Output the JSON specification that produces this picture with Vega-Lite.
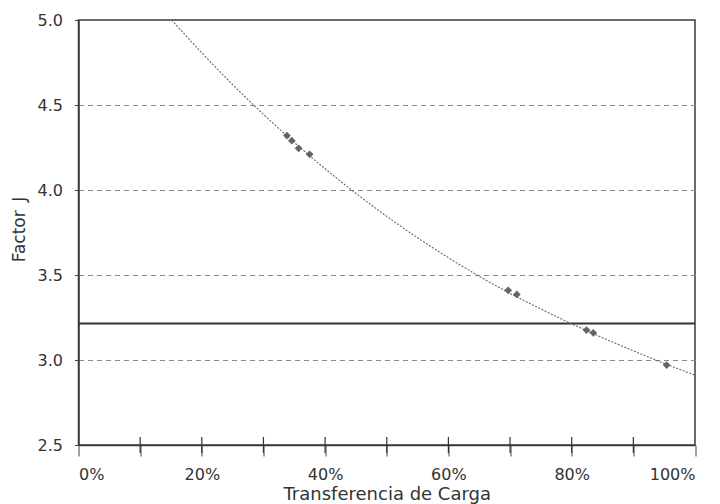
{
  "$schema": "https://vega.github.io/schema/vega-lite/v6.json",
  "width": 616.5,
  "height": 425,
  "autosize": {"type": "none"},
  "padding": {"left": 78.5, "top": 20, "right": 25.5, "bottom": 59},
  "background": "white",
  "config": {
    "font": "DejaVu Sans",
    "view": {"stroke": "#3a3a3a", "strokeWidth": 1.5},
    "axis": {"domainColor": "#3a3a3a", "domainWidth": 1.5, "tickColor": "#444", "labelColor": "#333", "titleColor": "#333", "labelFont": "DejaVu Sans", "titleFont": "DejaVu Sans", "titleFontWeight": "normal"}
  },
  "datasets": {
    "curve": [
      {"x": 0.151, "J": 5.0},
      {"x": 0.2, "J": 4.807},
      {"x": 0.25, "J": 4.62},
      {"x": 0.3, "J": 4.445},
      {"x": 0.35, "J": 4.28},
      {"x": 0.4, "J": 4.125},
      {"x": 0.45, "J": 3.98},
      {"x": 0.5, "J": 3.845},
      {"x": 0.55, "J": 3.719},
      {"x": 0.6, "J": 3.602},
      {"x": 0.65, "J": 3.493},
      {"x": 0.7, "J": 3.392},
      {"x": 0.75, "J": 3.3},
      {"x": 0.8, "J": 3.213},
      {"x": 0.85, "J": 3.131},
      {"x": 0.9, "J": 3.054},
      {"x": 0.95, "J": 2.98},
      {"x": 1.0, "J": 2.911}
    ],
    "points": [
      {"x": 0.338, "J": 4.32},
      {"x": 0.346, "J": 4.29},
      {"x": 0.357, "J": 4.245},
      {"x": 0.375, "J": 4.21},
      {"x": 0.697, "J": 3.41},
      {"x": 0.711, "J": 3.386},
      {"x": 0.824, "J": 3.176},
      {"x": 0.835, "J": 3.16},
      {"x": 0.954, "J": 2.97}
    ],
    "ref": [{"J": 3.215}],
    "xticks": [
      {"t": 0.1}, {"t": 0.2}, {"t": 0.3}, {"t": 0.4}, {"t": 0.5},
      {"t": 0.6}, {"t": 0.7}, {"t": 0.8}, {"t": 0.9}
    ]
  },
  "layer": [
    {
      "data": {"name": "ref"},
      "mark": {"type": "rule", "color": "#333", "strokeWidth": 2},
      "encoding": {
        "y": {"field": "J", "type": "quantitative", "scale": {"domain": [2.5, 5]}}
      }
    },
    {
      "data": {"name": "xticks"},
      "mark": {"type": "tick", "orient": "vertical", "color": "#333", "thickness": 1.2, "size": 16, "opacity": 1},
      "encoding": {
        "x": {"field": "t", "type": "quantitative"},
        "y": {"datum": 2.5}
      }
    },
    {
      "data": {"name": "curve"},
      "mark": {"type": "line", "color": "#666", "strokeWidth": 1.1, "strokeDash": [2, 1.5], "interpolate": "monotone"},
      "encoding": {
        "x": {
          "field": "x", "type": "quantitative",
          "scale": {"domain": [0, 1], "nice": false},
          "axis": {
            "orient": "bottom",
            "values": [0, 0.1, 0.2, 0.3, 0.4, 0.5, 0.6, 0.7, 0.8, 0.9, 1.0],
            "labelExpr": "round(datum.value * 10) % 2 == 0 ? format(datum.value, '.0%') : ''",
            "labelFontSize": 16,
            "tickSize": 11,
            "labelPadding": 10,
            "grid": false,
            "title": "Transferencia de Carga",
            "titleFontSize": 18,
            "titleBaseline": "middle",
            "titleY": 49
          }
        },
        "y": {
          "field": "J", "type": "quantitative",
          "scale": {"domain": [2.5, 5], "nice": false, "zero": false},
          "axis": {
            "values": [2.5, 3.0, 3.5, 4.0, 4.5, 5.0],
            "format": ".1f",
            "labelFontSize": 16,
            "tickSize": 4,
            "labelPadding": 12,
            "grid": true,
            "gridColor": "#8a8a8a",
            "gridDash": [5, 4],
            "gridWidth": 1,
            "gridOpacity": {"condition": {"test": "datum.value == 2.5 || datum.value == 5", "value": 0}, "value": 1},
            "title": "Factor\u2002J",
            "titleFontSize": 17,
            "titleAngle": 270,
            "titleBaseline": "middle",
            "titleAlign": "center",
            "titleX": -59,
            "titleY": 209
          }
        }
      }
    },
    {
      "data": {"name": "points"},
      "mark": {"type": "point", "shape": "diamond", "filled": true, "color": "#555", "size": 60, "opacity": 0.9},
      "encoding": {
        "x": {"field": "x", "type": "quantitative"},
        "y": {"field": "J", "type": "quantitative"}
      }
    }
  ]
}
